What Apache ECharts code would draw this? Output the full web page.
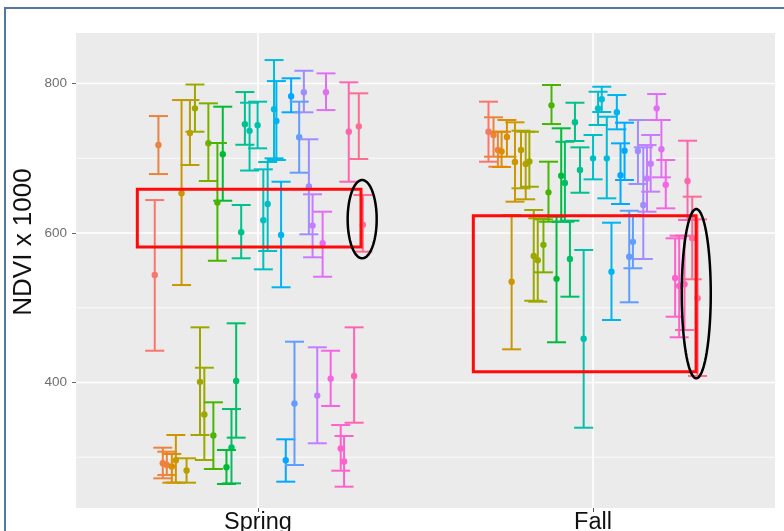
<!DOCTYPE html>
<html>
<head>
<meta charset="utf-8">
<script src="https://cdn.jsdelivr.net/npm/echarts@6/dist/echarts.min.js"></script>
<style>html,body{margin:0;padding:0;background:#fff}#c{width:784px;height:531px}</style>
</head>
<body>
<div id="c"></div>
<script>
// ---- data (x: 1 = Spring, 2 = Fall, dodged positions) ----
const categories = ['Spring', 'Fall'];
const yTickLabels = [400, 600, 800];
const yMinorTicks = [300, 500, 700];

const springX = [0.703,0.692,0.772,0.812,0.797,0.852,0.895,0.879,0.950,0.961,0.975,0.999,1.048,1.055,1.099,1.137,1.123,1.152,1.203,1.271,1.301,1.313,1.029,1.016,1.069,1.163,1.193,
  0.827,0.840,0.867,0.935,0.921,0.906,0.716,0.728,0.743,0.755,0.787,1.083,1.109,1.177,1.217,1.247,1.257,1.287];
const springMean = [717.7,543.8,653.2,766.8,733.8,720.1,705.3,640.8,601.1,745.6,736.7,744.2,765.6,749.8,782.9,788.4,728.2,662.2,788.4,735.4,742.7,611.1,638.8,617.0,597.3,609.9,586.4,
  400.9,357.2,329.2,402.0,313.0,286.6,292.0,289.6,287.6,295.9,282.3,295.9,372.0,382.5,405.2,311.7,294.3,408.7];
const springLow = [678.9,442.5,530.4,735.5,691.0,669.6,643.2,562.9,566.2,718.1,683.6,713.3,699.9,697.7,761.5,761.5,680.7,598.3,764.5,668.6,699.0,575.0,575.9,551.4,527.4,567.5,541.5,
  329.8,296.3,284.3,326.2,265.1,264.2,271.8,276.3,266.0,266.0,266.0,267.3,289.6,318.7,368.6,282.0,260.6,346.2];
const springHigh = [756.5,644.1,777.9,798.7,777.9,773.5,769.0,720.4,637.5,788.6,774.3,775.7,831.4,803.3,807.0,817.1,775.7,725.4,813.6,801.6,786.9,650.8,695.0,685.2,668.6,651.8,628.5,
  473.8,419.8,373.5,479.2,364.5,309.7,312.8,307.4,304.4,329.8,298.6,324.0,454.6,447.1,442.5,343.1,328.4,473.8];
const springGroup = [1,0,3,5,4,6,8,7,10,10,11,11,13,14,15,17,16,17,19,22,23,23,12,12,14,18,19,
  5,5,7,9,9,8,1,1,2,3,4,15,16,18,20,21,21,22];

const fallX = [1.688,1.703,1.716,1.727,1.743,1.767,1.785,1.799,1.810,1.757,1.823,1.835,1.852,1.867,1.876,1.891,1.905,1.916,1.931,1.946,1.961,1.972,2.000,2.015,2.026,2.041,2.071,2.082,2.094,2.134,2.150,2.161,2.172,2.190,2.204,2.217,2.282,2.296,2.245,2.257,2.273,2.312,2.108,2.119,2.055];
const fallMean = [735.4,731.1,711.0,709.0,728.4,695.0,711.0,692.3,695.7,534.7,569.2,563.5,584.2,654.4,770.8,538.7,676.7,666.9,565.2,748.2,684.3,458.5,699.9,766.8,778.9,699.9,761.5,677.3,710.0,709.7,637.5,672.9,692.7,766.8,712.1,664.5,669.6,593.0,539.8,529.1,531.5,512.8,568.2,588.2,548.1];
const fallLow = [695.4,702.1,688.7,688.3,702.1,641.9,659.8,645.1,661.9,444.4,509.4,508.1,547.4,615.1,745.8,453.8,615.1,615.1,514.8,723.1,653.9,339.5,671.8,744.5,761.9,646.4,738.7,638.8,670.9,665.6,565.2,628.5,655.3,751.2,674.5,633.0,617.4,538.1,488.0,460.5,470.2,408.7,507.3,552.8,483.6];
const fallHigh = [775.7,754.8,735.5,735.5,751.2,748.1,736.9,735.5,735.5,624.1,630.8,619.7,618.3,695.4,798.0,621.8,740.1,722.1,616.5,774.3,714.6,577.3,731.1,789.0,795.7,755.6,784.6,720.0,747.6,751.2,714.6,717.7,731.1,786.0,751.2,697.7,723.5,648.6,592.9,596.4,596.4,618.3,629.8,624.1,613.8];
const fallGroup = [0,1,1,2,2,3,4,4,5,3,5,5,6,7,7,8,8,9,9,10,10,11,12,12,13,13,14,15,15,17,17,18,18,19,19,20,22,23,21,21,22,23,16,16,14];

// annotations (data units): [x0, x1, yTop, yBottom]
const boxes = [[0.640, 1.3075, 658.5, 581.3], [1.6427, 2.3075, 623.1, 414.4]];
// ellipses: [cx, cy, rx (x units), ry (y units)]
const ellipses = [[1.311, 618.5, 0.0433, 52.4], [2.308, 518.8, 0.0433, 113.3]];

// ---- ggplot-like hue palette ----
function hcl(h, c, l) {
  const hr = h * Math.PI / 180;
  const U = c * Math.cos(hr), V = c * Math.sin(hr);
  const Xn = 95.047, Yn = 100, Zn = 108.883;
  const Y = l > 8 ? Yn * Math.pow((l + 16) / 116, 3) : Yn * l / 903.3;
  const t = Xn + 15 * Yn + 3 * Zn;
  const un = 4 * Xn / t, vn = 9 * Yn / t;
  const u = U / (13 * l) + un, v = V / (13 * l) + vn;
  const X = 9 * Y * u / (4 * v);
  const Z = Y * (12 - 3 * u - 20 * v) / (4 * v);
  const x = X / 100, y = Y / 100, z = Z / 100;
  const lin = [3.240479 * x - 1.537150 * y - 0.498535 * z,
              -0.969256 * x + 1.875992 * y + 0.041556 * z,
               0.055648 * x - 0.204043 * y + 1.057311 * z];
  return '#' + lin.map(c0 => {
    let g = c0 <= 0.0031308 ? 12.92 * c0 : 1.055 * Math.pow(c0, 1 / 2.4) - 0.055;
    g = Math.max(0, Math.min(1, g));
    return Math.round(g * 255).toString(16).padStart(2, '0');
  }).join('');
}
const NG = 24;
const palette = Array.from({length: NG}, (_, k) => hcl(15 + 360 * k / NG, 100, 65));

function bars(X, M, L, H, G) {
  return X.map((x, i) => [x, L[i], H[i], M[i], G[i]]);
}
const barData = bars(springX, springMean, springLow, springHigh, springGroup)
  .concat(bars(fallX, fallMean, fallLow, fallHigh, fallGroup));

const chart = echarts.init(document.getElementById('c'), null, {renderer: 'canvas'});

const gridLines = yMinorTicks.map(v => [0, v, 0]).concat(yTickLabels.map(v => [0, v, 1]));

chart.setOption({
  animation: false,
  backgroundColor: '#ffffff',
  grid: {left: 76, right: 9, top: 33, bottom: 23, show: true, backgroundColor: '#EBEBEB', borderWidth: 0,
    containLabel: false, outerBoundsMode: 'none'},
  xAxis: {
    type: 'value', min: 0.457, max: 2.543,
    axisLine: {show: false}, splitLine: {show: false},
    axisTick: {show: true, customValues: [1, 2], length: 4, lineStyle: {color: '#555', width: 1}},
    axisLabel: {customValues: [1, 2], formatter: v => categories[Math.round(v) - 1] || '',
      color: '#111', fontSize: 23.5, fontFamily: 'Liberation Sans, Arial, sans-serif', margin: 3}
  },
  yAxis: {
    type: 'value', min: 232.1, max: 867.6,
    axisLine: {show: false}, splitLine: {show: false},
    axisTick: {show: true, customValues: yTickLabels, length: 4, lineStyle: {color: '#666', width: 1}},
    axisLabel: {customValues: yTickLabels, color: '#6e6e6e', fontSize: 13.5,
      fontFamily: 'Liberation Sans, Arial, sans-serif', margin: 9}
  },
  graphic: [
    {type: 'rect', shape: {x: 5, y: 8, width: 820, height: 600}, style: {fill: 'none', stroke: '#5475A6', lineWidth: 2}, z: 100},
    {type: 'text', x: 24, y: 242, rotation: Math.PI / 2,
      style: {text: 'NDVI x 1000', font: '26px "Liberation Sans", Arial, sans-serif', fill: '#111', align: 'center', verticalAlign: 'middle'}}
  ],
  series: [
    { // horizontal grid lines
      type: 'custom', z: 1, silent: true, data: gridLines, encode: {x: 0, y: 1},
      renderItem: (params, api) => {
        const cs = params.coordSys;
        const y = api.coord([1, api.value(1)])[1];
        return {type: 'line', shape: {x1: cs.x, y1: y, x2: cs.x + cs.width, y2: y},
          style: {stroke: '#ffffff', lineWidth: api.value(2) ? 1.6 : 0.8}};
      }
    },
    { // vertical grid lines at categories
      type: 'custom', z: 1, silent: true, data: [[1, 500], [2, 500]], encode: {x: 0, y: 1},
      renderItem: (params, api) => {
        const cs = params.coordSys;
        const x = api.coord([api.value(0), 500])[0];
        return {type: 'line', shape: {x1: x, y1: cs.y, x2: x, y2: cs.y + cs.height},
          style: {stroke: '#ffffff', lineWidth: 1.6}};
      }
    },
    { // error bars
      type: 'custom', z: 3, silent: true, data: barData, encode: {x: 0, y: [1, 2, 3]},
      renderItem: (params, api) => {
        const x = api.value(0);
        const lo = api.coord([x, api.value(1)]);
        const hi = api.coord([x, api.value(2)]);
        const m = api.coord([x, api.value(3)]);
        const col = palette[api.value(4)];
        const hw = 9.5;
        const st = {stroke: col, lineWidth: 2};
        return {type: 'group', children: [
          {type: 'line', shape: {x1: lo[0], y1: lo[1], x2: hi[0], y2: hi[1]}, style: st},
          {type: 'line', shape: {x1: hi[0] - hw, y1: hi[1], x2: hi[0] + hw, y2: hi[1]}, style: st},
          {type: 'line', shape: {x1: lo[0] - hw, y1: lo[1], x2: lo[0] + hw, y2: lo[1]}, style: st},
          {type: 'circle', shape: {cx: m[0], cy: m[1], r: 3.2}, style: {fill: col}}
        ]};
      }
    },
    { // red boxes
      type: 'custom', z: 5, silent: true, data: boxes, encode: {x: [0, 1], y: [2, 3]},
      renderItem: (params, api) => {
        const p0 = api.coord([api.value(0), api.value(2)]);
        const p1 = api.coord([api.value(1), api.value(3)]);
        return {type: 'rect', shape: {x: p0[0], y: p0[1], width: p1[0] - p0[0], height: p1[1] - p0[1]},
          style: {fill: 'none', stroke: '#FF0A0A', lineWidth: 3}};
      }
    },
    { // black ellipses
      type: 'custom', z: 6, silent: true, data: ellipses, encode: {x: 0, y: 1},
      renderItem: (params, api) => {
        const cx = api.value(0), cy = api.value(1), rx = api.value(2), ry = api.value(3);
        const c = api.coord([cx, cy]);
        const e = api.coord([cx + rx, cy + ry]);
        const a = Math.abs(e[0] - c[0]), b = Math.abs(e[1] - c[1]);
        const pts = [];
        for (let i = 0; i < 90; i++) {
          const t = i / 90 * Math.PI * 2;
          pts.push([c[0] + a * Math.cos(t), c[1] + b * Math.sin(t)]);
        }
        return {type: 'polygon', shape: {points: pts}, style: {fill: 'none', stroke: '#000', lineWidth: 2.5}};
      }
    }
  ]
});
</script>
</body>
</html>
